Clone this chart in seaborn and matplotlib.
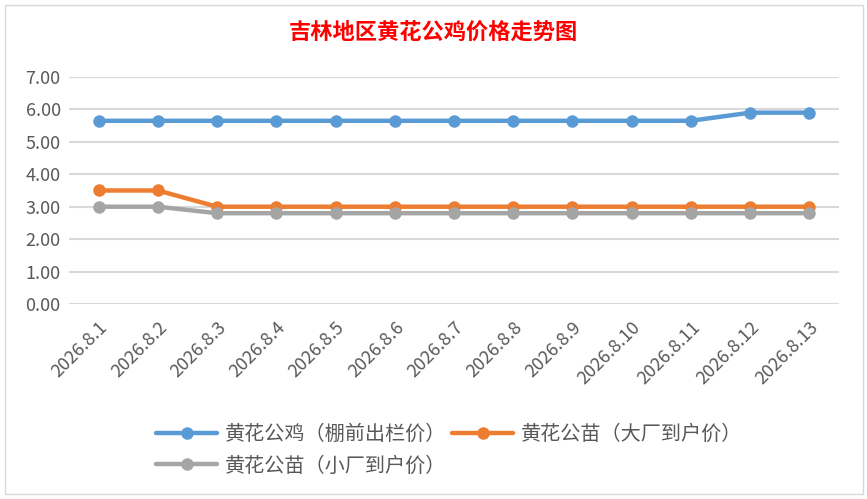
import pandas as pd
import matplotlib.pyplot as plt
import seaborn as sns
from matplotlib.patches import Rectangle

# ─── Data ────────────────────────────────────────────────────
dates = ['2026.8.1', '2026.8.2', '2026.8.3', '2026.8.4', '2026.8.5', '2026.8.6',
         '2026.8.7', '2026.8.8', '2026.8.9', '2026.8.10', '2026.8.11',
         '2026.8.12', '2026.8.13']
rooster = [5.65, 5.65, 5.65, 5.65, 5.65, 5.65, 5.65, 5.65, 5.65, 5.65, 5.65, 5.9, 5.9]
chick_big = [3.5, 3.5, 3.0, 3.0, 3.0, 3.0, 3.0, 3.0, 3.0, 3.0, 3.0, 3.0, 3.0]
chick_small = [3.0, 3.0, 2.8, 2.8, 2.8, 2.8, 2.8, 2.8, 2.8, 2.8, 2.8, 2.8, 2.8]

series_names = ['黄花公鸡（棚前出栏价）', '黄花公苗（大厂到户价）', '黄花公苗（小厂到户价）']
colors = ['#5B9BD5', '#ED7D31', '#A5A5A5']

rows = []
for name, vals in zip(series_names, [rooster, chick_big, chick_small]):
    for i, v in enumerate(vals):
        rows.append({'idx': i, 'price': v, 'series': name})
df = pd.DataFrame(rows)

# ─── Style ───────────────────────────────────────────────────
sns.set_style('white')
plt.rcParams['font.family'] = ['Noto Sans CJK SC', 'DejaVu Sans']

fig = plt.figure(figsize=(8.67, 4.99), dpi=100)
ax = fig.add_axes([0.0796, 0.3908, 0.888, 0.4549])

sns.lineplot(
    data=df, x='idx', y='price', hue='series',
    palette=dict(zip(series_names, colors)),
    hue_order=series_names,
    marker='o', markersize=9, markeredgewidth=0,
    linewidth=3.2, ax=ax, legend=True
)

ax.set_xlim(-0.5, len(dates) - 0.5)
ax.set_ylim(0, 7)
ax.set_yticks(range(0, 8))
ax.set_yticklabels([f'{v:.2f}' for v in range(0, 8)])
ax.set_xticks(range(len(dates)))
ax.set_xticklabels(dates, rotation=45, ha='right', rotation_mode='anchor')
ax.tick_params(axis='both', length=0, labelsize=13, labelcolor='#595959', pad=6)
ax.tick_params(axis='x', pad=10)
ax.grid(axis='y', color='#D9D9D9', linewidth=1.5)
ax.set_axisbelow(True)
for s in ax.spines.values():
    s.set_visible(False)
ax.set_xlabel('')
ax.set_ylabel('')

# legend: blue, gray in col 1, orange in col 2
handles, labels = ax.get_legend_handles_labels()
order = [0, 2, 1]
ax.legend([handles[i] for i in order], [labels[i] for i in order],
          ncol=2, loc='upper left', bbox_to_anchor=(0.09, -0.45),
          frameon=False, fontsize=14.5, labelcolor='#595959',
          handlelength=3, columnspacing=0.3, handletextpad=0.4,
          labelspacing=0.5)

fig.text(0.5, 0.935, '吉林地区黄花公鸡价格走势图', ha='center', va='center',
         color='red', fontsize=16, fontweight='bold')

fig.patches.append(Rectangle((5 / 867, 5 / 499), 858 / 867, 489 / 499,
                             transform=fig.transFigure, fill=False,
                             edgecolor='#D9D9D9', linewidth=1))

fig.savefig('out.png', dpi=100)
